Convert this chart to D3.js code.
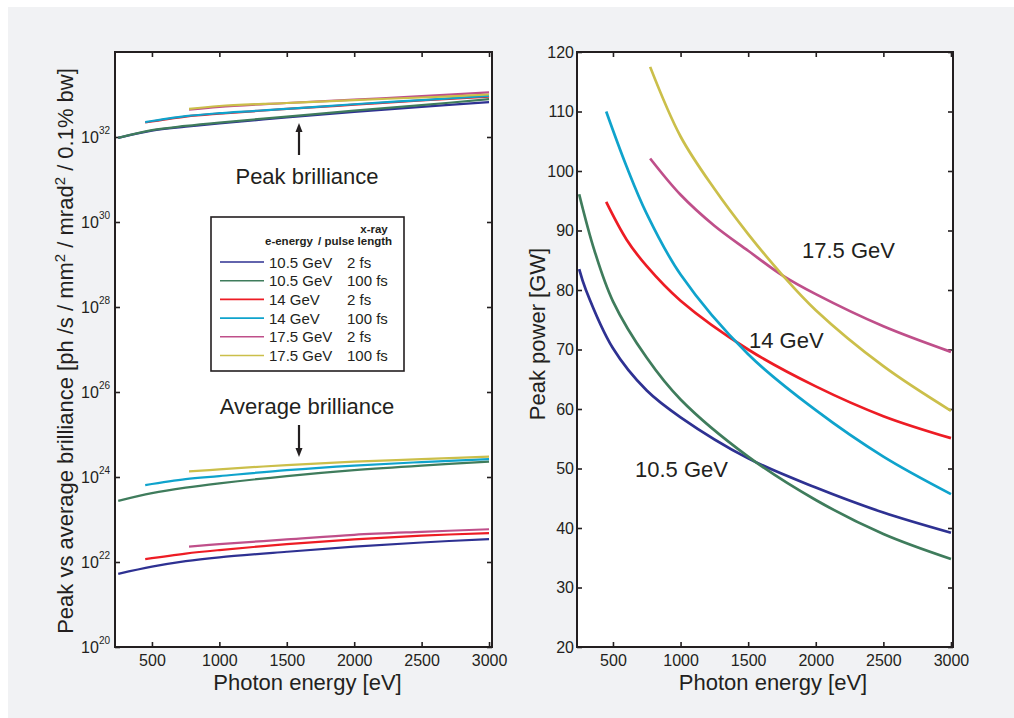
<!DOCTYPE html>
<html>
<head>
<meta charset="utf-8">
<script src="https://cdn.jsdelivr.net/npm/d3@7/dist/d3.min.js"></script>
<style>
  html, body { margin: 0; padding: 0; background: #ffffff; }
  svg { display: block; }
  text { font-family: "Liberation Sans", Arial, Helvetica, sans-serif; fill: #231f20; }
</style>
</head>
<body>
<svg id="chart" width="1014" height="718"></svg>
<script>
// ---------------- DATA ----------------
const seriesEnergy = ["10.5 GeV", "10.5 GeV", "14 GeV", "14 GeV", "17.5 GeV", "17.5 GeV"];
const seriesPulse = ["2 fs", "100 fs", "2 fs", "100 fs", "2 fs", "100 fs"];
const seriesColors = ["#2e3192", "#3f7c5c", "#ed1c24", "#0fa3cc", "#bf4f8a", "#cbbf4a"];

// photon energy grids [eV] for brilliance curves
const photonE105 = [250, 500, 750, 1000, 1500, 2000, 2500, 3000];
const photonE14 = [450, 750, 1000, 1500, 2000, 2500, 3000];
const photonE175 = [775, 1000, 1500, 2000, 2500, 3000];

// peak brilliance [ph/s/mm2/mrad2/0.1%bw]
const peak105_2fs = [9.55e31, 1.41e32, 1.74e32, 2.09e32, 2.88e32, 3.89e32, 5.13e32, 6.61e32];
const peak105_100fs = [9.55e31, 1.45e32, 1.82e32, 2.19e32, 3.02e32, 4.17e32, 5.62e32, 7.76e32];
const peak14_2fs = [2.19e32, 3.02e32, 3.55e32, 4.57e32, 5.75e32, 7.24e32, 8.91e32];
const peak14_100fs = [2.24e32, 3.09e32, 3.63e32, 4.57e32, 5.89e32, 7.41e32, 9.33e32];
const peak175_2fs = [4.37e32, 5.13e32, 6.31e32, 7.59e32, 9.12e32, 1.12e33];
const peak175_100fs = [4.57e32, 5.37e32, 6.31e32, 7.41e32, 8.51e32, 1.0e33];

// average brilliance
const avg105_2fs = [5.25e21, 7.76e21, 1.05e22, 1.29e22, 1.74e22, 2.29e22, 2.88e22, 3.47e22];
const avg105_100fs = [2.75e23, 4.17e23, 5.62e23, 7.08e23, 1.05e24, 1.45e24, 1.86e24, 2.29e24];
const avg14_2fs = [1.17e22, 1.58e22, 1.91e22, 2.63e22, 3.39e22, 4.17e22, 4.79e22];
const avg14_100fs = [6.46e23, 8.91e23, 1.05e24, 1.45e24, 1.86e24, 2.24e24, 2.63e24];
const avg175_2fs = [2.29e22, 2.63e22, 3.39e22, 4.37e22, 5.13e22, 5.89e22];
const avg175_100fs = [1.35e24, 1.51e24, 1.91e24, 2.29e24, 2.63e24, 3.02e24];

// peak power [GW] with their photon energies [eV]
const powerE105_2fs = [250, 300, 500, 750, 1000, 1500, 2000, 2500, 3000];
const power105_2fs = [83.5, 80.0, 70.2, 63.1, 58.6, 51.7, 46.8, 42.6, 39.2];
const powerE105_100fs = [250, 362, 500, 750, 1000, 1500, 2000, 2500, 3000];
const power105_100fs = [96.1, 86.7, 78.1, 68.6, 61.6, 52.0, 44.7, 39.0, 34.8];
const powerE14_2fs = [450, 600, 750, 1000, 1500, 2000, 2500, 3000];
const power14_2fs = [94.8, 88.5, 84.0, 78.2, 70.0, 63.8, 58.8, 55.1];
const powerE14_100fs = [450, 600, 750, 1000, 1500, 2000, 2500, 3000];
const power14_100fs = [110.0, 100.8, 92.8, 82.6, 69.2, 59.8, 52.0, 45.7];
const powerE175_2fs = [775, 1000, 1250, 1500, 1750, 2000, 2500, 3000];
const power175_2fs = [102.1, 96.0, 90.8, 86.6, 82.5, 79.3, 73.9, 69.6];
const powerE175_100fs = [775, 1000, 1250, 1500, 1750, 2000, 2500, 3000];
const power175_100fs = [117.5, 105.8, 97.0, 89.4, 82.6, 76.6, 67.2, 59.7];

const xTicks = [500, 1000, 1500, 2000, 2500, 3000];
const brillTicks = [1e20, 1e22, 1e24, 1e26, 1e28, 1e30, 1e32];
const powerTicks = [20, 30, 40, 50, 60, 70, 80, 90, 100, 110, 120];

const xLabel = "Photon energy [eV]";
const powerLabel = "Peak power [GW]";
const annotPeak = "Peak brilliance";
const annotAvg = "Average brilliance";
const powerLabels = ["10.5 GeV", "14 GeV", "17.5 GeV"];

// ---------------- DRAW ----------------
const svg = d3.select("#chart");
const ink = "#231f20";
svg.append("rect").attr("x", 8).attr("y", 7).attr("width", 1006).attr("height", 711).attr("fill", "#f1f2f4");

const zip = (xs, ys) => xs.map((x, i) => [x, ys[i]]);

// ---- left panel ----
const L = {x0: 115, x1: 492, y0: 52, y1: 647};
const xL = d3.scaleLinear().domain([226, 3022]).range([L.x0, L.x1]);
const yL = d3.scaleLog().domain([1e20, 1e34]).range([L.y1, L.y0]);

// ---- right panel ----
const R = {x0: 577, x1: 953, y0: 52, y1: 647};
const xR = d3.scaleLinear().domain([234, 3015]).range([R.x0, R.x1]);
const yR = d3.scaleLinear().domain([20, 120]).range([R.y1, R.y0]);

function panelBase(P) {
  svg.append("rect").attr("x", P.x0).attr("y", P.y0).attr("width", P.x1 - P.x0).attr("height", P.y1 - P.y0)
    .attr("fill", "#ffffff");
}
panelBase(L); panelBase(R);

function styleAxis(g, size) {
  g.select(".domain").remove();
  g.selectAll(".tick line").attr("stroke", ink).attr("stroke-width", 1.6);
  g.selectAll(".tick text").style("font-size", size + "px").attr("fill", ink);
}

function xAxes(P, xs) {
  const gb = svg.append("g").attr("transform", `translate(0,${P.y1})`)
    .call(d3.axisBottom(xs).tickValues(xTicks).tickSizeInner(-5).tickSizeOuter(0).tickPadding(8).tickFormat(d3.format("d")));
  styleAxis(gb, 16);
  const gt = svg.append("g").attr("transform", `translate(0,${P.y0})`)
    .call(d3.axisTop(xs).tickValues(xTicks).tickSizeInner(-5).tickSizeOuter(0).tickFormat(""));
  styleAxis(gt, 16);
}
xAxes(L, xL); xAxes(R, xR);

// left y axis (log)
const gyl = svg.append("g").attr("transform", `translate(${L.x0},0)`)
  .call(d3.axisLeft(yL).tickValues(brillTicks).tickSizeInner(-5).tickSizeOuter(0).tickPadding(5).tickFormat(() => ""));
styleAxis(gyl, 16);
gyl.selectAll(".tick text").each(function(d) {
  const t = d3.select(this);
  const e = Math.round(Math.log10(d));
  t.text(null);
  t.append("tspan").text("10");
  t.append("tspan").attr("dy", -9).style("font-size", "10px").text(e);
});
const gylr = svg.append("g").attr("transform", `translate(${L.x1},0)`)
  .call(d3.axisRight(yL).tickValues(brillTicks).tickSizeInner(-5).tickSizeOuter(0).tickFormat(""));
styleAxis(gylr, 16);

// right y axis
const gyr = svg.append("g").attr("transform", `translate(${R.x0},0)`)
  .call(d3.axisLeft(yR).tickValues(powerTicks).tickSizeInner(-5).tickSizeOuter(0).tickPadding(3).tickFormat(d3.format("d")));
styleAxis(gyr, 16);
const gyrr = svg.append("g").attr("transform", `translate(${R.x1},0)`)
  .call(d3.axisRight(yR).tickValues(powerTicks).tickSizeInner(-5).tickSizeOuter(0).tickFormat(""));
styleAxis(gyrr, 16);

// curves
const lineL = d3.line().x(d => xL(d[0])).y(d => yL(d[1])).curve(d3.curveCatmullRom.alpha(0.5));
const lineR = d3.line().x(d => xR(d[0])).y(d => yR(d[1])).curve(d3.curveCatmullRom.alpha(0.5));

const peakSets = [
  zip(photonE105, peak105_2fs), zip(photonE105, peak105_100fs),
  zip(photonE14, peak14_2fs), zip(photonE14, peak14_100fs),
  zip(photonE175, peak175_2fs), zip(photonE175, peak175_100fs)];
const avgSets = [
  zip(photonE105, avg105_2fs), zip(photonE105, avg105_100fs),
  zip(photonE14, avg14_2fs), zip(photonE14, avg14_100fs),
  zip(photonE175, avg175_2fs), zip(photonE175, avg175_100fs)];
const powerSets = [
  zip(powerE105_2fs, power105_2fs), zip(powerE105_100fs, power105_100fs),
  zip(powerE14_2fs, power14_2fs), zip(powerE14_100fs, power14_100fs),
  zip(powerE175_2fs, power175_2fs), zip(powerE175_100fs, power175_100fs)];

const gl = svg.append("g");
[...avgSets, ...peakSets].forEach((s, i) => {
  gl.append("path").attr("d", lineL(s)).attr("fill", "none")
    .attr("stroke", seriesColors[i % 6]).attr("stroke-width", 2.2);
});
const gr = svg.append("g");
powerSets.forEach((s, i) => {
  gr.append("path").attr("d", lineR(s)).attr("fill", "none")
    .attr("stroke", seriesColors[i]).attr("stroke-width", 2.7);
});

// frames
function frame(P) {
  svg.append("rect").attr("x", P.x0).attr("y", P.y0).attr("width", P.x1 - P.x0).attr("height", P.y1 - P.y0)
    .attr("fill", "none").attr("stroke", ink).attr("stroke-width", 2);
}
frame(L); frame(R);

// axis titles
svg.append("text").attr("x", (L.x0 + L.x1) / 2 + 4).attr("y", 690).attr("text-anchor", "middle")
  .style("font-size", "22px").text(xLabel);
svg.append("text").attr("x", (R.x0 + R.x1) / 2 + 8).attr("y", 690).attr("text-anchor", "middle")
  .style("font-size", "22px").text(xLabel);

const yt = svg.append("text").attr("transform", "translate(73,351) rotate(-90)").attr("text-anchor", "middle")
  .style("font-size", "22px");
yt.append("tspan").text("Peak vs average brilliance [ph /s / mm");
yt.append("tspan").attr("dy", -8).style("font-size", "15px").text("2");
yt.append("tspan").attr("dy", 8).text(" / mrad");
yt.append("tspan").attr("dy", -8).style("font-size", "15px").text("2");
yt.append("tspan").attr("dy", 8).text(" / 0.1% bw]");

svg.append("text").attr("transform", "translate(545,334) rotate(-90)").attr("text-anchor", "middle")
  .style("font-size", "22px").text(powerLabel);

// annotations left
svg.append("text").attr("x", 307).attr("y", 184).attr("text-anchor", "middle").style("font-size", "22px").text(annotPeak);
svg.append("text").attr("x", 307).attr("y", 414).attr("text-anchor", "middle").style("font-size", "22px").text(annotAvg);
function arrow(x, yFrom, yTip) {
  const dir = yTip < yFrom ? -1 : 1;
  svg.append("line").attr("x1", x).attr("x2", x).attr("y1", yFrom).attr("y2", yTip - dir * 6)
    .attr("stroke", ink).attr("stroke-width", 2.2);
  svg.append("path").attr("d", `M${x},${yTip} L${x - 3.5},${yTip - dir * 9} L${x + 3.5},${yTip - dir * 9} Z`).attr("fill", ink);
}
arrow(299, 155, 123);
arrow(299, 425, 457);

// annotations right
svg.append("text").attr("x", 802).attr("y", 258).style("font-size", "22px").text(powerLabels[2]);
svg.append("text").attr("x", 749).attr("y", 348).style("font-size", "22px").text(powerLabels[1]);
svg.append("text").attr("x", 635).attr("y", 477).style("font-size", "22px").text(powerLabels[0]);

// legend
const lg = svg.append("g");
lg.append("rect").attr("x", 211).attr("y", 217).attr("width", 193).attr("height", 154)
  .attr("fill", "#ffffff").attr("stroke", ink).attr("stroke-width", 1.6);
lg.append("text").attr("x", 374).attr("y", 232.5).attr("text-anchor", "middle").style("font-size", "11.5px").style("font-weight", "bold").text("x-ray");
lg.append("text").attr("x", 265).attr("y", 244.5).style("font-size", "11.5px").style("font-weight", "bold").text("e-energy");
lg.append("text").attr("x", 318).attr("y", 244.5).style("font-size", "11.5px").style("font-weight", "bold").text("/ pulse length");
seriesEnergy.forEach((e, i) => {
  const y = 262 + i * 18.7;
  lg.append("line").attr("x1", 220).attr("x2", 264).attr("y1", y).attr("y2", y)
    .attr("stroke", seriesColors[i]).attr("stroke-width", 1.6);
  lg.append("text").attr("x", 269).attr("y", y + 5.5).style("font-size", "15px").text(e);
  lg.append("text").attr("x", 347).attr("y", y + 5.5).style("font-size", "15px").text(seriesPulse[i]);
});
</script>
</body>
</html>
